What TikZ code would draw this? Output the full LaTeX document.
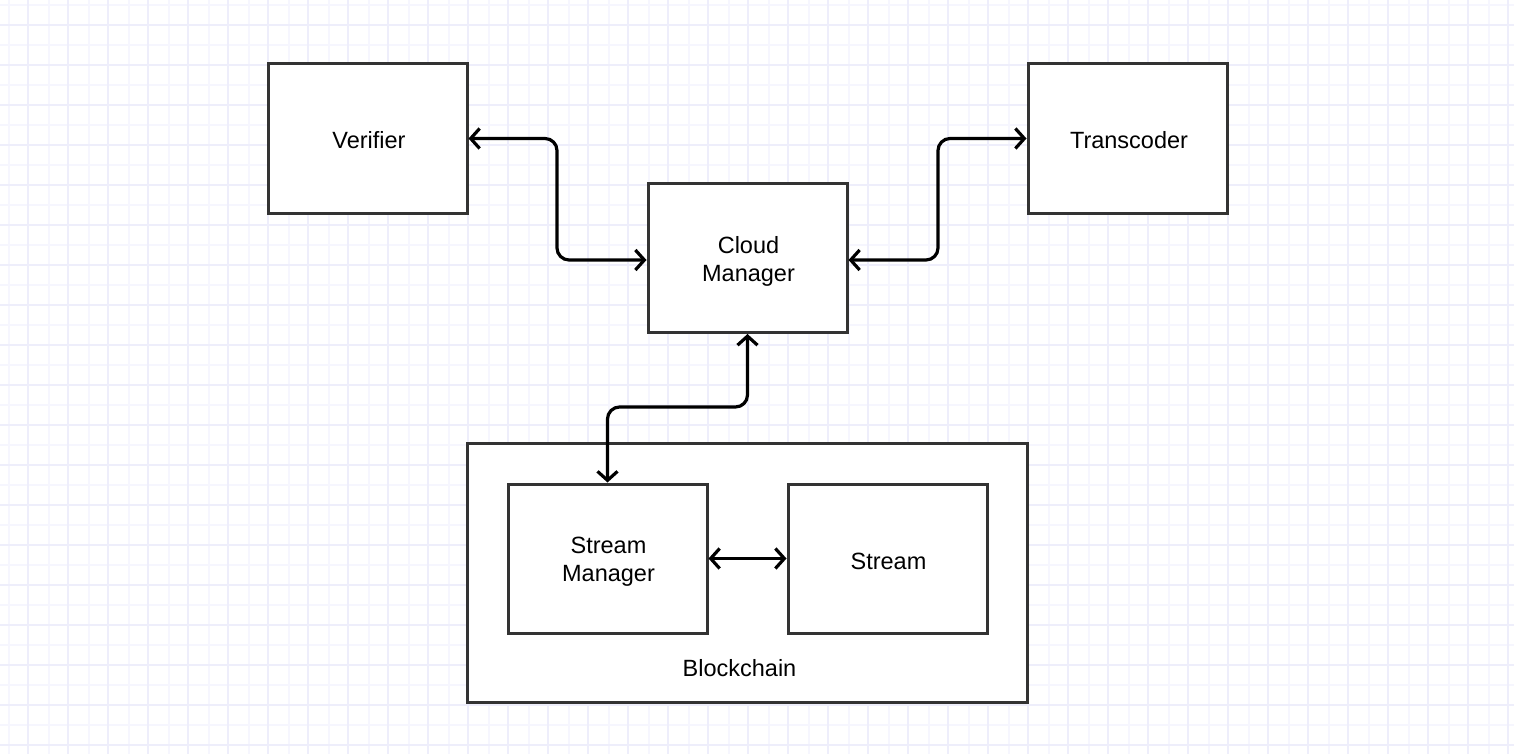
\documentclass[tikz,border=0pt]{standalone}
\usepackage{fontspec}
\setmainfont{Liberation Sans}
\usetikzlibrary{arrows.meta}
\definecolor{gridA}{HTML}{EEEEFB}
\definecolor{gridB}{HTML}{F6F6FE}
\definecolor{boxline}{HTML}{333333}
\begin{document}
\begin{tikzpicture}[x=1pt,y=-1pt,
  box/.style={draw=boxline,line width=3pt,fill=white,minimum width=199pt,minimum height=149pt,inner sep=0pt},
  txt/.style={font=\fontsize{23.5}{28}\selectfont,align=center,inner sep=0pt},
  conn/.style={line width=3.2pt,rounded corners=12pt,{Straight Barb[length=9pt,width=20pt,line width=3.2pt]}-{Straight Barb[length=9pt,width=20pt,line width=3.2pt]}}]
\useasboundingbox (0,0) rectangle (1514,754);
\fill[white] (0,0) rectangle (1514,754);
\foreach \x in {9,49,...,1514} \draw[gridB,line width=2pt] (\x,0) -- (\x,754);
\foreach \y in {5,45,...,754} \draw[gridB,line width=2pt] (0,\y) -- (1514,\y);
\foreach \x in {28,68,...,1514} \draw[gridA,line width=2pt] (\x,0) -- (\x,754);
\foreach \y in {25,65,...,754} \draw[gridA,line width=2pt] (0,\y) -- (1514,\y);

\node[box] (ver) at (367.5,138.5) {};
\node[txt] (vert) at (369,140.5) {Verifier};
\node[box] (tra) at (1127.5,138.5) {};
\node[txt] (trat) at (1129,140.5) {Transcoder};
\node[box] (cm) at (747.5,258) {};
\node[txt] (cmt) at (748.5,261) {Cloud\\Manager};
\node[box,minimum width=560pt,minimum height=259pt] (bc) at (747.5,573) {};
\node[txt] (bcl) at (739.5,668) {Blockchain};
\node[box] (sm) at (607.5,558.5) {};
\node[txt] (smt) at (608.5,561.5) {Stream\\Manager};
\node[box] (st) at (887.5,558.5) {};
\node[txt] (stt) at (888.5,561) {Stream};

\draw[conn] (ver.east) -- (557,138.5) -- (557,260) -- (cm.west |- 0,260);
\draw[conn] (cm.east |- 0,260) -- (938,260) -- (938,138.5) -- (tra.west);
\draw[conn] (cm.south) -- (747.5,407) -- (607.5,407) -- (sm.north);
\draw[conn] (sm.east) -- (st.west);
\end{tikzpicture}
\end{document}
